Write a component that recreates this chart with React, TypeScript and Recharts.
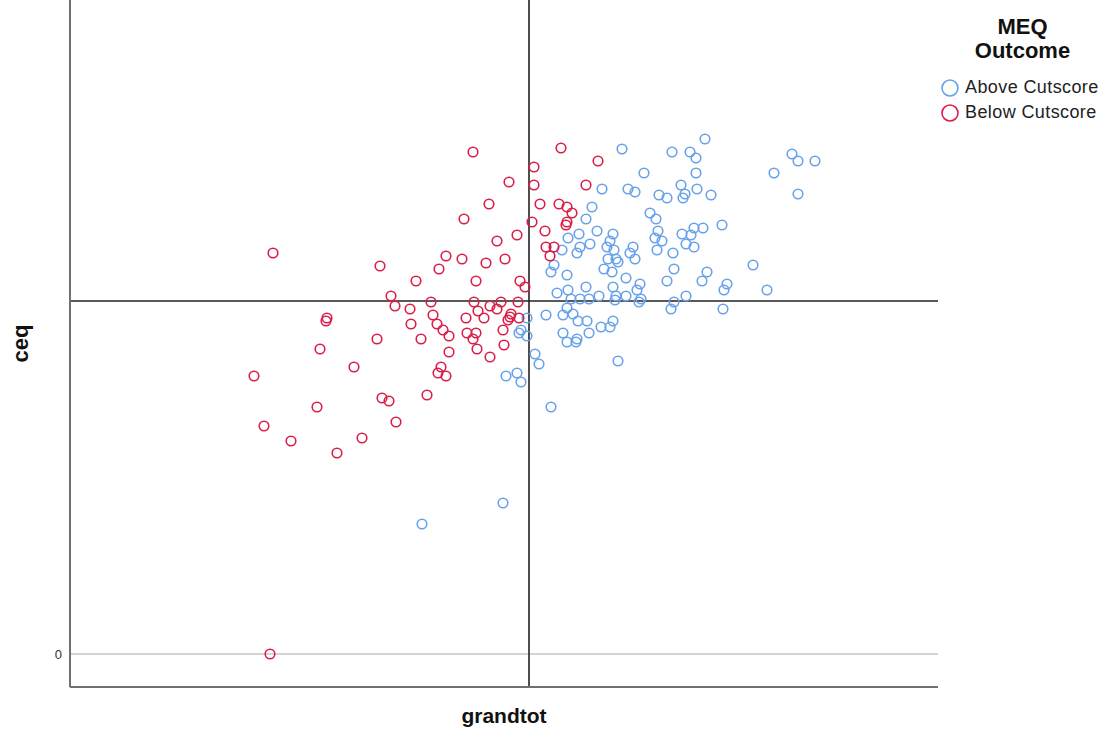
import React from "react";
import { ScatterChart, Scatter, XAxis, YAxis, ReferenceLine, Legend } from "recharts";

const FONT = '"Liberation Sans", Arial, sans-serif';
const BLUE = "#68a2ea";
const RED = "#d91e48";

const seriesNames = ["Above Cutscore", "Below Cutscore"];
const legendTitle = ["MEQ", "Outcome"];
const yTicks = [0];

const aboveGrandtot = [
  55.2, 60.2, 62.0, 62.6, 63.5, 72.2, 72.8, 74.5, 57.4, 62.6, 70.4, 53.2, 55.8, 56.5, 61.1, 62.7, 64.1, 58.9, 59.7, 61.5,
  61.3, 72.8, 52.2, 51.6, 58.0, 58.6, 52.7, 50.9, 49.8, 54.3, 54.0, 58.8, 58.5, 59.2, 61.2, 62.4, 63.3, 62.1, 65.2, 49.2,
  51.0, 50.7, 52.0, 53.7, 54.4, 56.3, 56.0, 56.5, 53.8, 54.6, 54.8, 58.7, 61.6, 62.4, 60.3, 48.4, 48.1, 49.7, 53.4, 54.2,
  55.6, 60.4, 63.7, 68.3, 59.7, 63.2, 65.7, 65.4, 69.7, 48.7, 49.8, 50.1, 51.6, 51.0, 51.9, 52.9, 54.3, 54.6, 54.5, 55.6,
  57.0, 56.7, 57.1, 56.9, 61.6, 60.4, 60.1, 65.3, 47.6, 45.7, 49.3, 49.7, 50.3, 50.8, 51.7, 54.3, 54.0, 53.1, 51.9, 49.3,
  49.7, 50.7, 50.6, 45.1, 44.9, 45.7, 46.5, 46.9, 54.8, 43.6, 44.7, 45.1, 48.1, 43.3, 35.2,
];
const aboveCeq = [
  50.5, 50.2, 50.2, 49.6, 51.5, 50.0, 49.3, 49.3, 48.1, 48.1, 48.1, 46.5, 46.5, 46.2, 46.9, 46.5, 45.9, 45.9, 45.6, 46.0,
  45.6, 46.0, 44.7, 43.5, 44.1, 43.5, 42.3, 42.0, 41.6, 42.0, 41.3, 42.3, 41.6, 41.3, 42.0, 42.6, 42.6, 41.9, 42.9, 40.4,
  40.7, 40.1, 41.0, 40.7, 40.4, 40.7, 40.1, 39.5, 39.5, 39.5, 39.2, 40.4, 41.0, 40.7, 40.1, 38.9, 38.2, 37.9, 38.5, 38.2,
  37.6, 38.5, 38.2, 38.9, 37.3, 37.3, 37.0, 36.4, 36.4, 36.1, 36.4, 35.5, 36.7, 35.5, 35.5, 35.8, 36.7, 35.8, 35.4, 35.8,
  37.0, 36.4, 35.5, 35.2, 35.8, 35.2, 34.5, 34.5, 33.9, 33.6, 33.9, 34.6, 34.0, 33.3, 33.3, 33.3, 32.7, 32.7, 32.1, 32.1,
  31.2, 31.5, 31.2, 32.4, 32.1, 31.8, 30.0, 29.0, 29.3, 27.8, 28.1, 27.2, 24.7, 15.1, 13.0,
];

const belowGrandtot = [
  20.0, 20.3, 40.3, 49.1, 52.8, 46.4, 43.9, 46.4, 51.6, 41.9, 47.0, 48.9, 49.7, 50.2, 39.4, 49.7, 49.6, 46.2, 47.5, 44.7,
  42.7, 47.6, 48.4, 48.0, 37.6, 36.9, 39.2, 41.6, 43.5, 31.0, 34.6, 40.6, 45.0, 45.5, 32.1, 32.5, 36.1, 34.0, 40.4, 40.8,
  42.0, 42.7, 43.1, 44.8, 36.3, 36.7, 37.3, 37.9, 34.1, 39.6, 41.4, 44.1, 44.0, 43.8, 44.9, 43.3, 39.7, 40.6, 40.3, 40.7,
  30.7, 35.1, 37.9, 43.4, 42.0, 37.1, 36.8, 37.6, 25.7, 25.6, 25.0, 28.4, 18.4, 31.2, 31.9, 35.7, 24.7, 32.6, 19.4, 29.2,
  22.1, 26.7,
];
const belowCeq = [
  0.0, 40.1, 50.2, 50.6, 49.3, 48.7, 47.2, 46.9, 46.9, 45.0, 45.0, 45.0, 44.7, 44.1, 43.5, 43.2, 42.9, 43.2, 42.3, 41.9,
  41.3, 40.7, 40.7, 39.8, 39.8, 38.5, 39.5, 39.1, 39.5, 38.8, 37.3, 37.3, 37.3, 36.7, 35.8, 34.8, 35.2, 34.5, 35.2, 34.3,
  34.8, 34.5, 35.2, 35.2, 33.9, 33.0, 32.4, 31.8, 33.0, 33.6, 33.6, 34.0, 33.7, 33.4, 33.6, 32.4, 32.1, 32.1, 31.5, 30.5,
  31.5, 31.5, 30.2, 30.9, 29.7, 28.7, 28.1, 27.8, 33.6, 33.3, 30.5, 28.7, 27.8, 25.6, 25.3, 25.9, 24.7, 23.2, 22.8, 21.6,
  21.3, 20.1,
];

const xDomain = [0, 86.8];
const yDomain = [-3.3, 65.4];
const xCut = 45.9;
const yCut = 35.3;

const aboveData = aboveGrandtot.map((x, i) => ({ x, y: aboveCeq[i] }));
const belowData = belowGrandtot.map((x, i) => ({ x, y: belowCeq[i] }));

const ring = (color: string) => (props: any) => (
  <circle cx={props.cx} cy={props.cy} r={4.8} fill="none" stroke={color} strokeWidth={1.6} />
);

const LegendBox = () => (
  <div style={{ fontFamily: FONT, color: "#111", width: 169, paddingTop: 15 }}>
    <div style={{ textAlign: "center", fontWeight: "bold", fontSize: 22, lineHeight: "24px" }}>
      <div>{legendTitle[0]}</div>
      <div>{legendTitle[1]}</div>
    </div>
    <div style={{ marginTop: 12 }}>
      {seriesNames.map((n, i) => (
        <div key={n} style={{ display: "flex", alignItems: "center", height: 25, fontSize: 18, letterSpacing: 0.4, color: "#222", whiteSpace: "nowrap" }}>
          <svg width={22} height={20} style={{ marginLeft: 2, flex: "none" }}>
            <circle cx={10} cy={10} r={8} fill="none" stroke={i === 0 ? BLUE : RED} strokeWidth={1.6} />
          </svg>
          <span style={{ marginLeft: 3 }}>{n}</span>
        </div>
      ))}
    </div>
  </div>
);

export default function App() {
  return (
    <div style={{ position: "absolute", left: 0, top: 0, background: "#fff" }}>
      <ScatterChart width={1107} height={731} margin={{ top: 0, right: 0, bottom: 0, left: 0 }}>
        <XAxis
          type="number"
          dataKey="x"
          domain={xDomain}
          allowDataOverflow
          tick={false}
          tickLine={false}
          height={44}
          axisLine={{ stroke: "#707070", strokeWidth: 2 }}
          label={{ value: "grandtot", position: "insideBottom", offset: 8, style: { fontFamily: FONT, fontWeight: "bold", fontSize: 21, fill: "#111" } }}
        />
        <YAxis
          type="number"
          dataKey="y"
          domain={yDomain}
          allowDataOverflow
          ticks={yTicks}
          tickLine={false}
          tickMargin={2}
          width={70}
          axisLine={{ stroke: "#707070", strokeWidth: 2 }}
          tick={{ fontFamily: FONT, fontSize: 13, fill: "#333" }}
          label={{ value: "ceq", angle: -90, position: "insideLeft", offset: 20, style: { fontFamily: FONT, fontWeight: "bold", fontSize: 22, fill: "#111", textAnchor: "middle" } }}
        />
        <ReferenceLine y={0} stroke="#d4d4d4" strokeWidth={2} />
        <Scatter name={seriesNames[0]} data={aboveData} shape={ring(BLUE)} isAnimationActive={false} />
        <Scatter name={seriesNames[1]} data={belowData} shape={ring(RED)} isAnimationActive={false} />
        <ReferenceLine x={xCut} stroke="#222" strokeWidth={1.6} />
        <ReferenceLine y={yCut} stroke="#222" strokeWidth={1.6} />
        <Legend
          layout="vertical"
          align="right"
          verticalAlign="top"
          content={<LegendBox />}
          wrapperStyle={{ width: 169 }}
        />
      </ScatterChart>
    </div>
  );
}
